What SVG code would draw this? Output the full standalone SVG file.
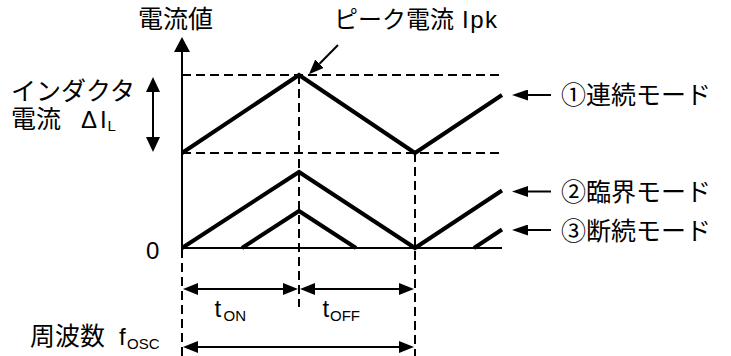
<svg xmlns="http://www.w3.org/2000/svg" width="731" height="356" viewBox="0 0 731 356">
<style>
text { font-family: "Liberation Sans", "Noto Sans CJK JP", sans-serif; font-size: 25px; fill: #000; }
.lat { font-size: 24px; }
.sub { font-size: 15px; }
.thick { fill: none; stroke: #000; stroke-width: 4; stroke-linejoin: miter; stroke-miterlimit: 10; }
.thin { fill: none; stroke: #000; stroke-width: 2; }
.dash { fill: none; stroke: #000; stroke-width: 2; stroke-dasharray: 9 5; }
</style>
<defs>
<marker id="ah" markerUnits="userSpaceOnUse" viewBox="0 0 15 12" markerWidth="15" markerHeight="12" refX="0" refY="6" orient="auto-start-reverse"><path d="M0,0 L15,6 L0,12 z" fill="#000"/></marker>
<marker id="ahAxis" markerUnits="userSpaceOnUse" viewBox="0 0 15 16" markerWidth="15" markerHeight="16" refX="0" refY="8" orient="auto-start-reverse"><path d="M0,0 L15,8 L0,16 z" fill="#000"/></marker>
<marker id="ahD" markerUnits="userSpaceOnUse" viewBox="0 0 15 14" markerWidth="15" markerHeight="14" refX="0" refY="7" orient="auto-start-reverse"><path d="M0,0 L15,7 L0,14 z" fill="#000"/></marker>
<marker id="ahM" markerUnits="userSpaceOnUse" viewBox="0 0 16 11" markerWidth="16" markerHeight="11" refX="0" refY="5.5" orient="auto-start-reverse"><path d="M0,0 L16,5.5 L0,11 z" fill="#000"/></marker>
</defs>

<g id="guides">
<path class="dash" d="M182,75 H501"/>
<path class="dash" d="M182,153 H501"/>
<path class="dash" d="M299,75 V307"/>
<path class="dash" d="M415,153 V356"/>
<path class="dash" d="M182,249 V356"/>
</g>

<g id="axes">
<line class="thin" x1="182" y1="249" x2="182" y2="52" marker-end="url(#ahAxis)"/>
<line class="thin" x1="182" y1="248" x2="502" y2="248"/>
</g>

<g id="mode1-wave">
<path class="thick" d="M182,153 L299,75 L415,153 L502,95"/>
</g>
<g id="mode2-wave">
<path class="thick" d="M182,248 L299,172 L415,248 L502,190.5"/>
</g>
<g id="mode3-wave">
<path class="thick" d="M242,248 L299,211 L356,248"/>
<path class="thick" d="M474,248 L502,229.5"/>
</g>

<g id="connectors">
<line class="thin" x1="153" y1="92" x2="153" y2="137" marker-start="url(#ahD)" marker-end="url(#ahD)"/>
<line class="thin" x1="338" y1="45" x2="319.5" y2="63.7" marker-end="url(#ah)"/>
<line class="thin" x1="198" y1="289" x2="283" y2="289" marker-start="url(#ah)" marker-end="url(#ah)"/>
<line class="thin" x1="315" y1="289" x2="399" y2="289" marker-start="url(#ah)" marker-end="url(#ah)"/>
<line class="thin" x1="198" y1="347" x2="399" y2="347" marker-start="url(#ah)" marker-end="url(#ah)"/>
<line class="thin" x1="551" y1="95" x2="528" y2="95" marker-end="url(#ahM)"/>
<line class="thin" x1="551" y1="191.5" x2="528" y2="191.5" marker-end="url(#ahM)"/>
<line class="thin" x1="551" y1="230" x2="528" y2="230" marker-end="url(#ahM)"/>
</g>

<g id="label-axis"><text x="138" y="28">電流値</text></g>
<g id="label-peak"><text x="334" y="28" style="font-size:24px">ピーク電流<tspan class="lat" x="462" letter-spacing="1.5">Ipk</tspan></text></g>
<g id="label-delta">
<text x="11" y="100">インダクタ</text>
<text x="11" y="128">電流<tspan class="lat" x="81">Δ</tspan><tspan class="lat" x="100">I</tspan><tspan class="sub" x="107.5" dy="3">L</tspan></text>
</g>
<g id="label-zero"><text class="lat" x="146" y="259">0</text></g>
<g id="label-ton"><text class="lat" x="214.5" y="317">t<tspan class="sub" x="223.5" dy="4">ON</tspan></text></g>
<g id="label-toff"><text class="lat" x="322.5" y="317">t<tspan class="sub" x="330" dy="4">OFF</tspan></text></g>
<g id="label-fosc"><text x="30" y="345">周波数<tspan class="lat" x="119">f</tspan><tspan class="sub" x="127" dy="4">OSC</tspan></text></g>
<g id="label-mode1"><text x="561" y="104">①連続モード</text></g>
<g id="label-mode2"><text x="561" y="201">②臨界モード</text></g>
<g id="label-mode3"><text x="561" y="240">③断続モード</text></g>
</svg>
